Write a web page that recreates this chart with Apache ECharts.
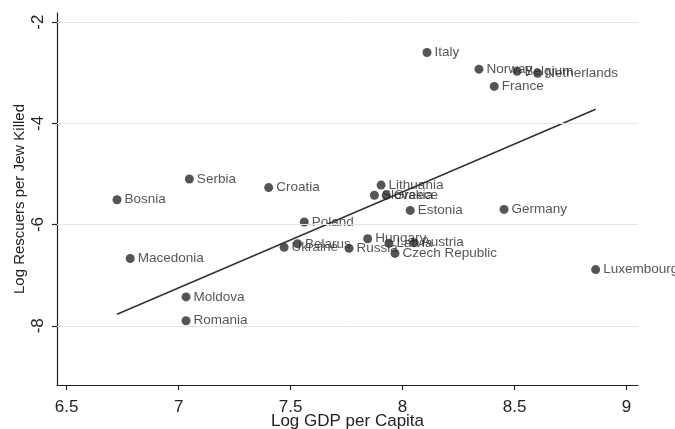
<!DOCTYPE html>
<html>
<head>
<meta charset="utf-8">
<script src="https://cdn.jsdelivr.net/npm/echarts@6/dist/echarts.min.js"></script>
<style>
  html, body { margin: 0; padding: 0; background: #fff; }
  #chart { width: 675px; height: 429px; }
</style>
</head>
<body>
<div id="chart"></div>
<script>
// 国家名称
var countries = ['Italy', 'Norway', 'Belgium', 'Netherlands', 'France', 'Serbia', 'Croatia', 'Bosnia',
  'Lithuania', 'Slovakia', 'Greece', 'Estonia', 'Germany', 'Poland', 'Hungary', 'Latvia', 'Austria',
  'Czech Republic', 'Russia', 'Belarus', 'Ukraine', 'Macedonia', 'Luxembourg', 'Moldova', 'Romania'];
// Log GDP per Capita
var logGdp = [8.109, 8.341, 8.511, 8.603, 8.409, 7.048, 7.402, 6.725,
  7.904, 7.874, 7.927, 8.034, 8.453, 7.561, 7.844, 7.939, 8.052,
  7.966, 7.761, 7.531, 7.471, 6.784, 8.862, 7.033, 7.033];
// Log Rescuers per Jew Killed
var logRescuers = [-2.60, -2.93, -2.97, -3.01, -3.27, -5.10, -5.27, -5.51,
  -5.22, -5.42, -5.42, -5.72, -5.70, -5.95, -6.28, -6.37, -6.36,
  -6.57, -6.47, -6.38, -6.45, -6.67, -6.89, -7.43, -7.90];
// 拟合线
var fitX = [6.725, 8.862];
var fitY = [-7.77, -3.72];
// 刻度
var xTicks = [6.5, 7, 7.5, 8, 8.5, 9];
var yTicks = [-8, -6, -4, -2];

var chart = echarts.init(document.getElementById('chart'));

var points = [];
for (var i = 0; i < countries.length; i++) {
  points.push({ name: countries[i], value: [logGdp[i], logRescuers[i]] });
}
var fitData = [];
for (var j = 0; j < fitX.length; j++) {
  fitData.push([fitX[j], fitY[j]]);
}
var gridLines = yTicks.map(function (v) { return { yAxis: v }; });

var font = 'Liberation Sans, Arial, Helvetica, sans-serif';

var option = {
  animation: false,
  textStyle: { fontFamily: font },
  grid: { left: 57, right: 37, top: 13, bottom: 44, outerBoundsMode: 'none', containLabel: false },
  xAxis: {
    type: 'value',
    min: 6.457,
    max: 9.051,
    name: 'Log GDP per Capita',
    nameLocation: 'middle',
    nameGap: 28,
    nameMoveOverlap: false,
    nameTextStyle: { fontSize: 17, color: '#222', fontFamily: font },
    axisLine: { show: true, lineStyle: { color: '#222', width: 1.2 } },
    axisTick: { show: true, length: 5, customValues: xTicks, lineStyle: { color: '#222', width: 1.2 } },
    axisLabel: { customValues: xTicks, fontSize: 17, color: '#222', margin: 14, fontFamily: font },
    splitLine: { show: false }
  },
  yAxis: {
    type: 'value',
    min: -9.17,
    max: -1.82,
    name: 'Log Rescuers per Jew Killed',
    nameLocation: 'middle',
    nameGap: 30,
    nameMoveOverlap: false,
    nameTextStyle: { fontSize: 15, color: '#222', fontFamily: font },
    axisLine: { show: true, lineStyle: { color: '#222', width: 1.2 } },
    axisTick: { show: true, length: 5, customValues: yTicks, lineStyle: { color: '#222', width: 1.2 } },
    axisLabel: { customValues: yTicks, rotate: 90, fontSize: 17, color: '#222', margin: 10, fontFamily: font },
    splitLine: { show: false }
  },
  series: [
    {
      type: 'line',
      data: [],
      z: 0,
      silent: true,
      markLine: {
        silent: true,
        symbol: 'none',
        label: { show: false },
        lineStyle: { color: '#e4e4e4', type: 'solid', width: 1 },
        data: gridLines
      }
    },
    {
      type: 'line',
      data: fitData,
      showSymbol: false,
      z: 1,
      lineStyle: { color: '#333', width: 1.6 }
    },
    {
      type: 'scatter',
      data: points,
      symbolSize: 9,
      z: 2,
      itemStyle: { color: '#2b2b2b' },
      label: {
        show: true,
        position: 'right',
        distance: 3,
        formatter: '{b}',
        fontSize: 13.5,
        color: '#2a2a2a',
        fontFamily: font
      }
    }
  ]
};

chart.setOption(option);
</script>
</body>
</html>
